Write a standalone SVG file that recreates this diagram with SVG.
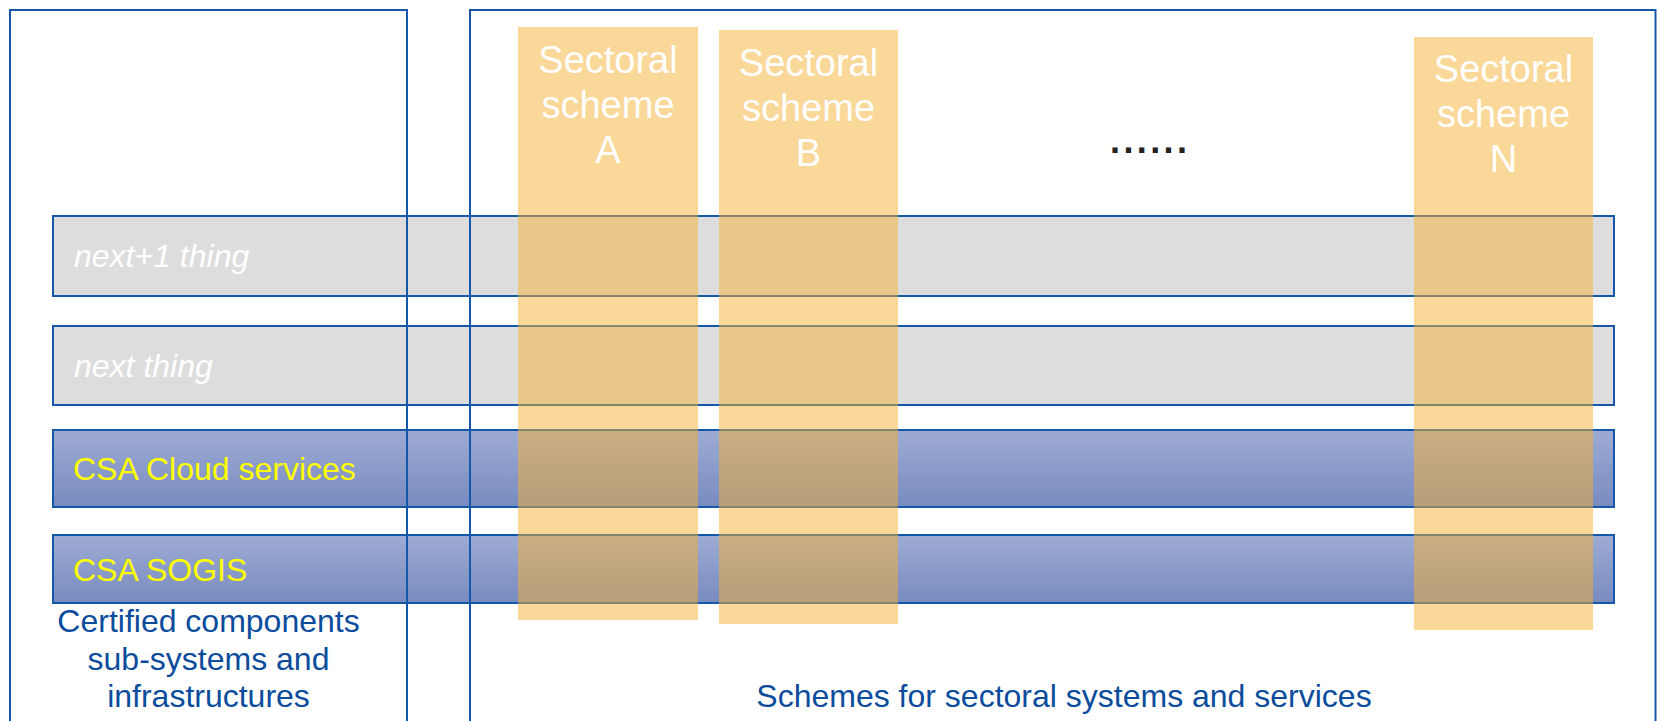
<svg xmlns="http://www.w3.org/2000/svg" width="1657" height="721" viewBox="0 0 1657 721">
<style>
text{font-family:"Liberation Sans",Arial,sans-serif}
.frame{fill:none;stroke:#1557a8;stroke-width:2}
.bar{stroke:#1557a8;stroke-width:2}
.grey{fill:#dddddd}
.blue{fill:url(#blueGrad)}
.lbl-i{font-size:32px;font-style:italic;fill:#ffffff}
.lbl-y{font-size:32px;fill:#ffff00}
.caption{font-size:32px;fill:#0b4c9c;text-anchor:middle}
.sect{fill:#f5b133;fill-opacity:0.5}
.sect-t{font-size:38px;fill:#ffffff;text-anchor:middle}
</style>
<defs>
<linearGradient id="blueGrad" x1="0" y1="0" x2="0" y2="1">
<stop offset="0" stop-color="#9eabd4"/>
<stop offset="1" stop-color="#788bbf"/>
</linearGradient>
</defs>
<rect width="1657" height="721" fill="#ffffff"/>
<g id="bars">
<g id="bar-next1"><rect class="bar grey" x="53" y="216" width="1561" height="80"/><text class="lbl-i" x="74" y="267">next+1 thing</text></g>
<g id="bar-next"><rect class="bar grey" x="53" y="326" width="1561" height="79"/><text class="lbl-i" x="74" y="377">next thing</text></g>
<g id="bar-cloud"><rect class="bar blue" x="53" y="430" width="1561" height="77"/><text class="lbl-y" x="73" y="480">CSA Cloud services</text></g>
<g id="bar-sogis"><rect class="bar blue" x="53" y="535" width="1561" height="68"/><text class="lbl-y" x="73" y="581">CSA SOGIS</text></g>
</g>
<g id="left-frame">
<path class="frame" d="M10,730 V10 H407 V730"/>
<text class="caption" x="208.5" y="632">Certified components</text>
<text class="caption" x="208.5" y="670">sub-systems and</text>
<text class="caption" x="208.5" y="707">infrastructures</text>
</g>
<g id="right-frame">
<path class="frame" d="M470,730 V10 H1655.5 V730"/>
<text class="caption" x="1064" y="707">Schemes for sectoral systems and services</text>
<text x="1110" y="153" font-size="36" font-weight="bold" fill="#222222" letter-spacing="3.4">......</text>
</g>
<g id="scheme-a">
<rect class="sect" x="518" y="27" width="180" height="593"/>
<text class="sect-t" x="608" y="73">Sectoral</text>
<text class="sect-t" x="608" y="118">scheme</text>
<text class="sect-t" x="608" y="163">A</text>
</g>
<g id="scheme-b">
<rect class="sect" x="719" y="30" width="179" height="594"/>
<text class="sect-t" x="808.5" y="76">Sectoral</text>
<text class="sect-t" x="808.5" y="121">scheme</text>
<text class="sect-t" x="808.5" y="166">B</text>
</g>
<g id="scheme-n">
<rect class="sect" x="1414" y="37" width="179" height="593"/>
<text class="sect-t" x="1503.5" y="82">Sectoral</text>
<text class="sect-t" x="1503.5" y="127">scheme</text>
<text class="sect-t" x="1503.5" y="172">N</text>
</g>
<g id="connectors"/>
</svg>
